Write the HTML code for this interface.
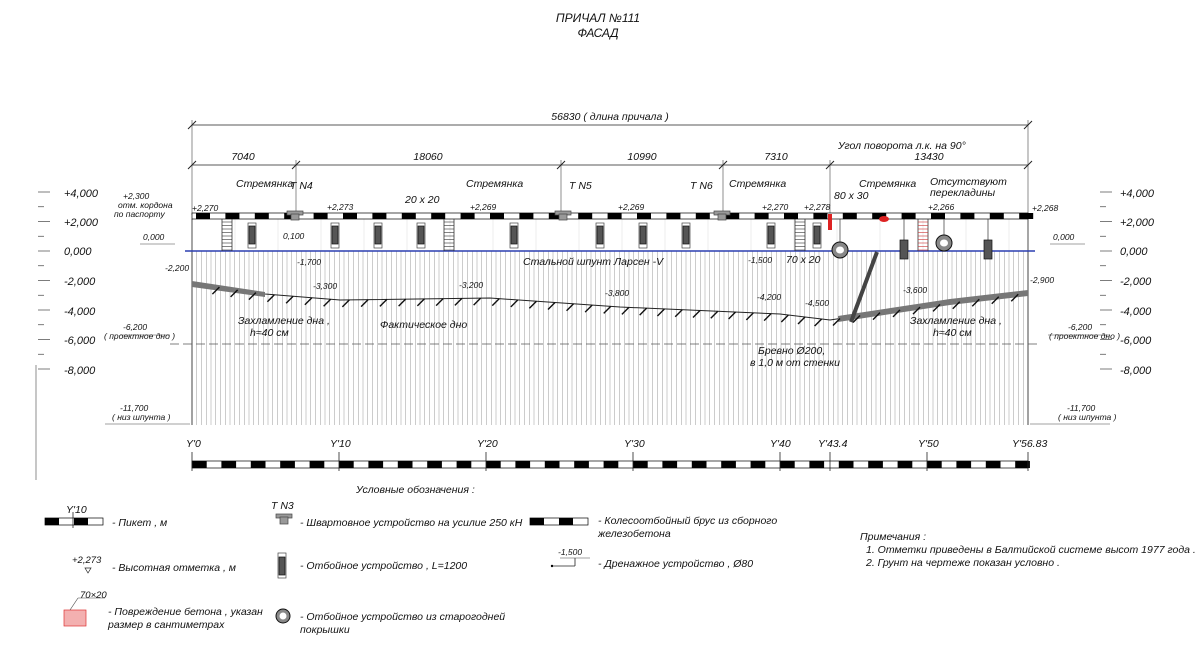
<!DOCTYPE html>
<html><head><meta charset="utf-8"><style>
body{margin:0;background:#fff;width:1200px;height:667px;overflow:hidden}
svg text{font-family:"Liberation Sans",sans-serif;font-style:italic;fill:#111}
</style></head><body>
<svg id="s" width="1200" height="667" viewBox="0 0 1200 667" xmlns="http://www.w3.org/2000/svg">
<g font-size="11">
<text x="598" y="22" text-anchor="middle" font-size="12">ПРИЧАЛ №111</text>
<text x="598" y="37" text-anchor="middle" font-size="12">ФАСАД</text>
<text x="610" y="120" text-anchor="middle" font-size="10.5">56830 ( длина причала )</text>
<line x1="192" y1="125" x2="1028" y2="125" stroke="#222" stroke-width="0.8"/>
<line x1="192" y1="165" x2="1028" y2="165" stroke="#222" stroke-width="0.8"/>
<text x="243" y="160" text-anchor="middle" font-size="10.5">7040</text>
<text x="428" y="160" text-anchor="middle" font-size="10.5">18060</text>
<text x="642" y="160" text-anchor="middle" font-size="10.5">10990</text>
<text x="776" y="160" text-anchor="middle" font-size="10.5">7310</text>
<text x="929" y="160" text-anchor="middle" font-size="10.5">13430</text>
</g>
<g id="g"></g>
<g font-size="10.5">
<text x="236" y="187">Стремянка</text><text x="290" y="189">Т  N4</text>
<text x="466" y="187">Стремянка</text><text x="569" y="189">Т  N5</text>
<text x="690" y="189">Т  N6</text><text x="729" y="187">Стремянка</text>
<text x="859" y="187">Стремянка</text>
<text x="838" y="149">Угол поворота л.к. на  90°</text>
<text x="405" y="203">20 x 20</text>
<text x="834" y="199">80 x 30</text>
<text x="930" y="185">Отсутствуют</text><text x="930" y="196">перекладины</text>
<text x="786" y="263">70 x 20</text>
<text x="523" y="265">Стальной шпунт Ларсен -V</text>
<text x="238" y="324">Захламление дна ,</text><text x="250" y="336">h≈40  см</text>
<text x="380" y="328">Фактическое дно</text>
<text x="910" y="324">Захламление дна ,</text><text x="933" y="336">h≈40  см</text>
<text x="758" y="354">Бревно  Ø200,</text><text x="750" y="366">в  1,0  м от стенки</text>
</g>
<g font-size="8.5">
<text x="192" y="211">+2,270</text><text x="327" y="210">+2,273</text><text x="470" y="210">+2,269</text>
<text x="618" y="210">+2,269</text><text x="762" y="210">+2,270</text><text x="804" y="210">+2,278</text>
<text x="928" y="210">+2,266</text><text x="1032" y="211">+2,268</text>
<text x="123" y="199">+2,300</text><text x="118" y="208">отм. кордона</text><text x="114" y="217">по паспорту</text>
<text x="143" y="240">0,000</text><text x="1053" y="240">0,000</text>
<text x="283" y="239">0,100</text><text x="297" y="265">-1,700</text><text x="313" y="289">-3,300</text>
<text x="459" y="288">-3,200</text><text x="605" y="296">-3,800</text><text x="748" y="263">-1,500</text>
<text x="757" y="300">-4,200</text><text x="805" y="306">-4,500</text><text x="903" y="293">-3,600</text>
<text x="165" y="271">-2,200</text><text x="1030" y="283">-2,900</text>
<text x="123" y="330">-6,200</text><text x="104" y="339">( проектное дно )</text>
<text x="1068" y="330">-6,200</text><text x="1049" y="339">( проектное дно )</text>
<text x="120" y="411">-11,700</text><text x="112" y="420">( низ шпунта )</text>
<text x="1067" y="411">-11,700</text><text x="1058" y="420">( низ шпунта )</text>
</g>
<g font-size="11">
<text x="64" y="197">+4,000</text><text x="64" y="226">+2,000</text><text x="64" y="255">0,000</text>
<text x="64" y="285">-2,000</text><text x="64" y="315">-4,000</text><text x="64" y="344">-6,000</text><text x="64" y="374">-8,000</text>
<text x="1120" y="197">+4,000</text><text x="1120" y="226">+2,000</text><text x="1120" y="255">0,000</text>
<text x="1120" y="285">-2,000</text><text x="1120" y="315">-4,000</text><text x="1120" y="344">-6,000</text><text x="1120" y="374">-8,000</text>
</g>
<g font-size="10.5">
<text x="186" y="447">Y'0</text><text x="330" y="447">Y'10</text><text x="477" y="447">Y'20</text>
<text x="624" y="447">Y'30</text><text x="770" y="447">Y'40</text><text x="818" y="447">Y'43.4</text>
<text x="918" y="447">Y'50</text><text x="1012" y="447">Y'56.83</text>
</g>
<g font-size="10.5">
<text x="356" y="493">Условные обозначения :</text>
<text x="66" y="513">Y'10</text><text x="112" y="526">- Пикет , м</text>
<text x="271" y="509">Т  N3</text><text x="300" y="526">- Швартовное устройство на усилие  250  кН</text>
<text x="598" y="524">-  Колесоотбойный брус из сборного</text><text x="598" y="537">железобетона</text>
<text x="72" y="563" font-size="9.5">+2,273</text><text x="112" y="571">- Высотная отметка , м</text>
<text x="300" y="569">- Отбойное устройство , L=1200</text>
<text x="558" y="555" font-size="8.5">-1,500</text><text x="598" y="567">- Дренажное устройство , Ø80</text>
<text x="80" y="598" font-size="9.5">70×20</text>
<text x="108" y="615">- Повреждение бетона , указан</text><text x="108" y="628">размер в сантиметрах</text>
<text x="300" y="620">- Отбойное устройство из старогодней</text><text x="300" y="633">покрышки</text>
<text x="860" y="540">Примечания :</text>
<text x="866" y="553">1.  Отметки приведены в Балтийской системе высот  1977  года .</text>
<text x="866" y="566">2.  Грунт на чертеже показан условно .</text>
</g>
</svg>
<script>
var g=document.getElementById('g'),h='';
function L(a,b,c,d,s,w,extra){h+='<line x1="'+a+'" y1="'+b+'" x2="'+c+'" y2="'+d+'" stroke="'+(s||'#222')+'" stroke-width="'+(w||0.8)+'" '+(extra||'')+'/>';}
function R(x,y,w,hh,f,s){h+='<rect x="'+x+'" y="'+y+'" width="'+w+'" height="'+hh+'" fill="'+f+'" stroke="'+(s||'none')+'" stroke-width="0.7"/>';}
[192,296,561,723,830,1028].forEach(function(x){L(x,160,x,215,'#444',0.6);L(x-4,169,x+4,161,'#222',1);});
[192,1028].forEach(function(x){L(x,120,x,160,'#444',0.6);L(x-4,129,x+4,121,'#222',1);});
for(var x=192;x<=1028;x+=4.75){L(x,251,x,425,'#999',0.5);}
L(192,251,192,425,'#222',0.8);L(1028,251,1028,425,'#222',0.8);
for(var x=192;x<=1028;x+=43){L(x,219,x,251,'#ddd',0.5);}
L(192,219,192,251);L(1028,219,1028,251);
R(192,213,836,6,'#fff','#000');
for(var x=196;x<1024;x+=29.4){R(x,213,14,6,'#000');}
L(185,251,1035,251,'#2b3fb0',1.6);
L(170,344,1040,344,'#555',0.8,'stroke-dasharray="9,4"');
var pts=[[192,283],[265,294],[340,300],[490,298],[620,307],[780,314],[830,320],[870,314],[950,303],[1028,293]];
h+='<polyline points="'+pts.join(' ')+'" fill="none" stroke="#222" stroke-width="1"/>';
h+='<polygon points="192,281 265,292 265,297 192,287" fill="#777"/>';
h+='<polygon points="838,316 950,299 1028,290 1028,296 950,305 838,322" fill="#777"/>';
for(var i=0;i<pts.length-1;i++){var a=pts[i],b=pts[i+1];var n=Math.max(2,Math.round((b[0]-a[0])/18));for(var k=0;k<n;k++){var t=(k+0.5)/n;var x=a[0]+(b[0]-a[0])*t,y=a[1]+(b[1]-a[1])*t;if(x<205)continue;L(x,y,x-7,y+7,'#111',1.4);}}
[[222,'#333'],[444,'#333'],[795,'#333'],[918,'#c33']].forEach(function(l){var x=l[0];L(x,219,x,251,'#333',0.8);L(x+10,219,x+10,251,'#333',0.8);for(var y=222;y<251;y+=3.5)L(x,y,x+10,y,l[1],0.6);});
[252,335,378,421,514,600,643,686,771,817].forEach(function(x){R(x-4,223,8,25,'#fff','#444');R(x-3,226,6,18,'#555','#111');});
[904,988].forEach(function(x){L(x,219,x,240,'#333',0.7);R(x-4,240,8,19,'#555','#111');});
[[840,250],[944,243]].forEach(function(p){L(p[0],219,p[0],p[1]-8,'#333',0.7);h+='<ellipse cx="'+p[0]+'" cy="'+p[1]+'" rx="8" ry="8" fill="#888" stroke="#111"/><ellipse cx="'+p[0]+'" cy="'+p[1]+'" rx="4" ry="3.5" fill="#fff"/>';});
h+='<line x1="877" y1="252" x2="851" y2="322" stroke="#444" stroke-width="4"/>';
[295,563,722].forEach(function(x){R(x-8,211,16,4,'#999','#444');R(x-4,214,8,6,'#999','#444');});
R(828,214,4,16,'#d22');h+='<ellipse cx="884" cy="219" rx="5" ry="3" fill="#d22"/>';
R(192,461,836,7,'#fff','#000');for(var x=192;x<1028;x+=29.4){R(x,461,14.7,7,'#000');}
[192,339,486,633,780,830,927,1028].forEach(function(x){L(x,452,x,471,'#222',0.8);});
[[38,50],[1100,1112]].forEach(function(a){for(var v=4;v>=-8;v-=1){var y=251-v*14.75;L(a[0],y,a[1]-(v%2?6:0),y,'#444',0.7);}});
L(36,365,36,480,'#444',0.6);
L(140,244,175,244,'#444',0.6);L(1050,244,1085,244,'#444',0.6);
L(120,335,170,335,'#444',0.6);L(1048,335,1110,335,'#444',0.6);
L(105,424,190,424,'#444',0.6);L(1030,424,1110,424,'#444',0.6);
R(45,518,58,7,'#fff','#000');R(45,518,14,7,'#000');R(74,518,14,7,'#000');L(73,512,73,528);
R(276,514,16,4,'#999','#444');R(280,517,8,7,'#999','#444');
R(530,518,58,7,'#fff','#000');R(530,518,14,7,'#000');R(559,518,14,7,'#000');
R(278,553,8,25,'#fff','#444');R(279,557,6,18,'#555','#111');
h+='<polygon points="85,568 91,568 88,573" fill="none" stroke="#222" stroke-width="0.7"/>';
L(552,566,575,566);L(575,558,575,566);L(560,558,590,558,'#444',0.5);h+='<circle cx="552" cy="566" r="1.2" fill="#000"/>';
R(64,610,22,16,'#f3b0b0','#d33');L(78,598,105,598,'#444',0.6);L(78,598,70,610,'#444',0.6);
h+='<circle cx="283" cy="616" r="7" fill="#888" stroke="#111"/><circle cx="283" cy="616" r="3.5" fill="#fff"/>';
g.innerHTML=h;
</script>
</body></html>
